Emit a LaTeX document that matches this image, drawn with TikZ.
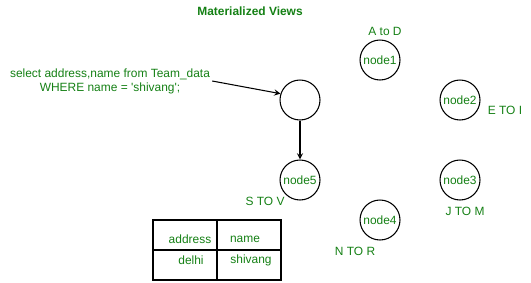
\documentclass[tikz,border=0pt]{standalone}
\usepackage{fontspec}
\setmainfont{Liberation Sans}
\definecolor{viewgreen}{RGB}{20,128,20}
\begin{document}
\begin{tikzpicture}[>=stealth, x=0.02cm, y=-0.02cm, semithick, font=\fontsize{6.8}{7.9}\selectfont]
\tikzset{vnode/.style={circle, draw, minimum size=0.8cm, inner sep=0pt, text=viewgreen},
         lbl/.style={text=viewgreen, inner sep=1pt}}
\useasboundingbox (0,0) rectangle (531,282);

\node[lbl, font=\fontsize{6.8}{7.9}\selectfont\bfseries] (T) at (250,11) {Materialized Views};
\node[lbl, align=center] (Q) at (110,81) {select address,name from Team\_data\\WHERE name = \textquotesingle shivang\textquotesingle;};

\node[vnode] (V0) at (300,100) {};
\node[vnode] (V1) at (380,60) {node1};
\node[vnode] (V2) at (460,100) {node2};
\node[vnode] (V3) at (460,180) {node3};
\node[vnode] (V4) at (380,220) {node4};
\node[vnode] (V5) at (300,180) {node5};

\node[lbl] (R1) at (385,31) {A to D};
\node[lbl] (R2) at (505,110) {E TO I};
\node[lbl] (R3) at (465,211) {J TO M};
\node[lbl] (R4) at (355,251) {N TO R};
\node[lbl] (R5) at (265,201) {S TO V};

\draw[->](Q.east)--(V0.162);
\draw[->](V0)--(V5);

% table
\draw (153,220) rectangle (281,280);
\draw (217,220)--(217,280);
\draw (153,250)--(281,250);
\node[lbl] (C1) at (190,239) {address};
\node[lbl] (C2) at (245,239) {name};
\node[lbl] (C3) at (191,260) {delhi};
\node[lbl] (C4) at (251,260) {shivang};

\end{tikzpicture}
\end{document}
